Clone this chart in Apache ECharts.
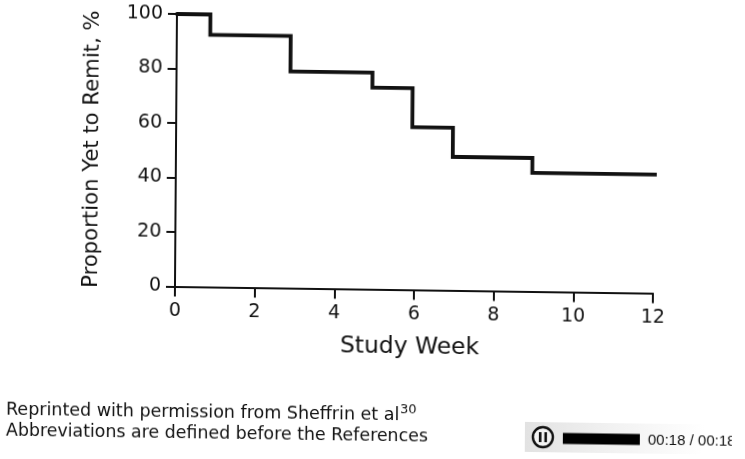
<!DOCTYPE html>
<html><head><meta charset="utf-8">
<style>html,body{margin:0;padding:0;background:#fff;overflow:hidden}
#c{width:745px;height:459px;transform:matrix(1,0.014,-0.0073,1,0,0);transform-origin:175px 285px}</style>
<script src="https://cdn.jsdelivr.net/npm/echarts@6/dist/echarts.min.js"></script>
</head><body><div id="c"></div>
<script>
const weeks = [0, 0.84, 2.86, 4.92, 5.93, 6.95, 8.95, 12.1];
const proportion = [100, 92.5, 79.5, 74, 59.7, 49, 43.5, 43.5];
const xTitle = 'Study Week';
const yTitle = 'Proportion Yet to Remit, %';
const noteLine1 = 'Reprinted with permission from Sheffrin et al';
const noteSup = '30';
const noteLine2 = 'Abbreviations are defined before the References';
const playerTime = '00:18 / 00:18';
const font = 'DejaVu Sans';
const ink = '#111';
const chart = echarts.init(document.getElementById('c'), null, {renderer:'canvas'});
chart.setOption({
  animation:false,
  backgroundColor:'#fff',
  grid:{left:175,right:92,top:14,bottom:172.5,containLabel:false},
  xAxis:{type:'value',min:0,max:12,interval:2,
    name:xTitle,nameLocation:'middle',nameGap:46,
    nameTextStyle:{fontFamily:font,fontSize:23.4,color:ink,padding:[0,8,0,0]},
    axisLine:{show:true,onZero:false,lineStyle:{color:ink,width:2}},
    axisTick:{show:true,length:10,lineStyle:{color:ink,width:2}},
    axisLabel:{fontFamily:font,fontSize:19,color:ink,margin:15},
    splitLine:{show:false}},
  yAxis:{type:'value',min:0,max:100,interval:20,
    name:yTitle,nameLocation:'middle',nameGap:73,
    nameTextStyle:{fontFamily:font,fontSize:21.2,color:ink},
    axisLine:{show:true,onZero:false,lineStyle:{color:ink,width:2}},
    axisTick:{show:true,length:9,lineStyle:{color:ink,width:2}},
    axisLabel:{fontFamily:font,fontSize:19,color:ink,margin:14,padding:[2,0,0,0]},
    splitLine:{show:false}},
  series:[{type:'line',step:'end',clip:false,showSymbol:false,symbol:'none',
    data:weeks.map((w,i)=>[w,proportion[i]]),
    lineStyle:{color:ink,width:3.8,cap:'round',join:'miter'}}],
  graphic:[
    {type:'text',left:7,top:403,style:{text:noteLine1,fontFamily:font,fontSize:17.5,fill:ink}},
    {type:'text',left:401,top:400,style:{text:noteSup,fontFamily:font,fontSize:13,fill:ink}},
    {type:'text',left:7,top:425,style:{text:noteLine2,fontFamily:font,fontSize:17.4,fill:ink}},
    {type:'rect',shape:{x:526,y:417,width:180,height:30},
      style:{fill:new echarts.graphic.LinearGradient(0,0,1,0,[{offset:0,color:'#e2e2e2'},{offset:0.5,color:'#f2f2f2'},{offset:1,color:'#ffffff'}])}},
    {type:'circle',shape:{cx:544,cy:432,r:10},style:{fill:'#f4f4f4',stroke:'#111',lineWidth:2.4}},
    {type:'rect',shape:{x:540,y:427,width:2.6,height:10},style:{fill:'#111'}},
    {type:'rect',shape:{x:545.5,y:427,width:2.6,height:10},style:{fill:'#111'}},
    {type:'rect',shape:{x:564,y:427.5,width:77,height:11},style:{fill:'#000'}},
    {type:'text',left:649,top:426,style:{text:playerTime,fontFamily:'Liberation Sans',fontSize:15,fill:ink}},
    {type:'rect',shape:{x:733,y:420,width:12,height:30},style:{fill:'#fff'},z:20}
  ]
});
</script></body></html>
